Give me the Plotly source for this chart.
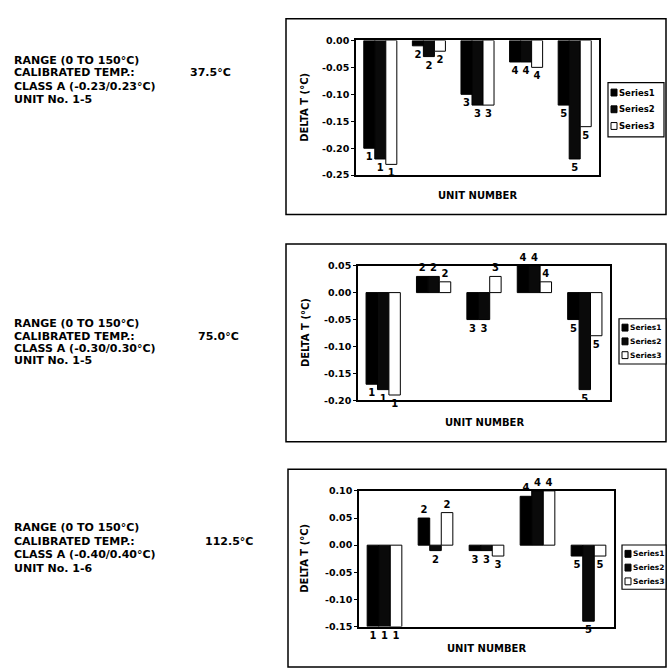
import plotly.graph_objects as go

W, H = 667, 668

units = [1, 2, 3, 4, 5]
unit_labels = ["1", "2", "3", "4", "5"]
series_names = ["Series1", "Series2", "Series3"]

# Chart 1: calibrated temp 37.5 °C
c1_s1 = [-0.20, -0.01, -0.10, -0.04, -0.12]
c1_s2 = [-0.22, -0.03, -0.12, -0.04, -0.22]
c1_s3 = [-0.23, -0.02, -0.12, -0.05, -0.16]
# Chart 2: calibrated temp 75.0 °C
c2_s1 = [-0.17, 0.03, -0.05, 0.05, -0.05]
c2_s2 = [-0.18, 0.03, -0.05, 0.05, -0.18]
c2_s3 = [-0.19, 0.02, 0.03, 0.02, -0.08]
# Chart 3: calibrated temp 112.5 °C
c3_s1 = [-0.15, 0.05, -0.01, 0.09, -0.02]
c3_s2 = [-0.15, -0.01, -0.01, 0.10, -0.14]
c3_s3 = [-0.15, 0.06, -0.02, 0.10, -0.02]

c1_ticks = [0.00, -0.05, -0.10, -0.15, -0.20, -0.25]
c1_ticktext = ["0.00", "-0.05", "-0.10", "-0.15", "-0.20", "-0.25"]
c2_ticks = [0.05, 0.00, -0.05, -0.10, -0.15, -0.20]
c2_ticktext = ["0.05", "0.00", "-0.05", "-0.10", "-0.15", "-0.20"]
c3_ticks = [0.10, 0.05, 0.00, -0.05, -0.10, -0.15]
c3_ticktext = ["0.10", "0.05", "0.00", "-0.05", "-0.10", "-0.15"]

cal_temps = ["37.5°C", "75.0°C", "112.5°C"]
class_texts = ["CLASS A (-0.23/0.23°C)", "CLASS A (-0.30/0.30°C)", "CLASS A (-0.40/0.40°C)"]
unit_texts = ["UNIT No. 1-5", "UNIT No. 1-5", "UNIT No. 1-6"]

FONT = "DejaVu Sans"


def fx(x):
    return x / W


def fy(y):
    return 1 - y / H


charts = [
    dict(vals=[c1_s1, c1_s2, c1_s3], ticks=c1_ticks, ticktext=c1_ticktext,
         plot=(356, 599, 35, 172), box=(286, 666, 13, 212),
         leg=(608, 664, 78, 133), leg_items=[88, 105, 122], leg_font=8.5,
         xtitle_y=193, text_y=[55, 68, 82, 95], val_x=188),
    dict(vals=[c2_s1, c2_s2, c2_s3], ticks=c2_ticks, ticktext=c2_ticktext,
         plot=(358, 610, 264, 401), box=(286, 666, 242, 443),
         leg=(619, 666, 318, 364), leg_items=[327, 341, 355], leg_font=7.5,
         xtitle_y=423, text_y=[323, 336, 348, 360], val_x=196),
    dict(vals=[c3_s1, c3_s2, c3_s3], ticks=c3_ticks, ticktext=c3_ticktext,
         plot=(359, 614, 493, 631), box=(288, 666, 471, 672),
         leg=(622, 666, 548, 593), leg_items=[557, 571, 585], leg_font=7.5,
         xtitle_y=653, text_y=[530, 544, 558, 572], val_x=203),
]

fills = ["#000000", "#0a0a0a", "#ffffff"]

fig = go.Figure()
layout = dict(
    width=W, height=H, margin=dict(l=0, r=0, t=0, b=0),
    paper_bgcolor="white", plot_bgcolor="white",
    barmode="group", bargap=0.32, bargroupgap=0.0,
    showlegend=False, font=dict(family=FONT, color="black"),
)
shapes = []
annotations = []

for i, ch in enumerate(charts):
    n = "" if i == 0 else str(i + 1)
    xa, ya = "x" + n, "y" + n
    x0, x1, y0, y1 = ch["plot"]
    for s in range(3):
        fig.add_trace(go.Bar(
            x=units, y=ch["vals"][s], name=series_names[s],
            xaxis=xa, yaxis=ya,
            marker=dict(color=fills[s], line=dict(color="black", width=1)),
            text=unit_labels, textposition="outside", cliponaxis=False,
            constraintext="none",
            textfont=dict(family=FONT, size=10, color="black", weight="bold"),
            hoverinfo="skip",
        ))
    layout["xaxis" + n] = dict(
        domain=[fx(x0), fx(x1)], anchor=ya, range=[0.5, 5.5],
        showticklabels=False, ticks="", showgrid=False, zeroline=False,
        showline=True, linecolor="black", linewidth=1.5, mirror=True,
    )
    layout["yaxis" + n] = dict(
        domain=[fy(y1), fy(y0)], anchor=xa,
        range=[min(ch["ticks"]), max(ch["ticks"])],
        tickvals=ch["ticks"], ticktext=ch["ticktext"],
        ticks="outside", ticklen=3, tickcolor="black", tickwidth=1,
        tickfont=dict(family=FONT, size=9.5, color="black", weight="bold"),
        showgrid=False, zeroline=False,
        showline=True, linecolor="black", linewidth=1.5, mirror=True,
    )
    bx0, bx1, by0, by1 = ch["box"]
    shapes.append(dict(type="rect", xref="paper", yref="paper",
                       x0=fx(bx0), x1=fx(bx1), y0=fy(by1), y1=fy(by0),
                       line=dict(color="black", width=1.5)))
    annotations.append(dict(xref="paper", yref="paper", x=fx((x0 + x1) / 2), y=fy(ch["xtitle_y"]),
                            text="<b>UNIT NUMBER</b>", showarrow=False,
                            font=dict(family=FONT, size=10, color="black"),
                            xanchor="center", yanchor="middle"))
    annotations.append(dict(xref="paper", yref="paper", x=fx(305), y=fy((y0 + y1) / 2),
                            text="<b>DELTA T (°C)</b>", showarrow=False, textangle=-90,
                            font=dict(family=FONT, size=10, color="black"),
                            xanchor="center", yanchor="middle"))
    lx0, lx1, ly0, ly1 = ch["leg"]
    shapes.append(dict(type="rect", xref="paper", yref="paper",
                       x0=fx(lx0), x1=fx(lx1), y0=fy(ly1), y1=fy(ly0),
                       line=dict(color="black", width=1.2), fillcolor="white"))
    for s in range(3):
        cy = ch["leg_items"][s]
        shapes.append(dict(type="rect", xref="paper", yref="paper",
                           x0=fx(lx0 + 3), x1=fx(lx0 + 9), y0=fy(cy + 3.5), y1=fy(cy - 3.5),
                           line=dict(color="black", width=1), fillcolor=fills[s]))
        annotations.append(dict(xref="paper", yref="paper", x=fx(lx0 + 9), y=fy(cy),
                                text="<b>" + series_names[s] + "</b>", showarrow=False,
                                font=dict(family=FONT, size=ch["leg_font"], color="black"),
                                xanchor="left", yanchor="middle"))
    lines = ["RANGE (0 TO 150°C)", "CALIBRATED TEMP.:", class_texts[i], unit_texts[i]]
    for k, t in enumerate(lines):
        annotations.append(dict(xref="paper", yref="paper", x=fx(12), y=fy(ch["text_y"][k]),
                                text="<b>" + t + "</b>", showarrow=False,
                                font=dict(family=FONT, size=11, color="black"),
                                xanchor="left", yanchor="middle"))
    annotations.append(dict(xref="paper", yref="paper", x=fx(ch["val_x"]), y=fy(ch["text_y"][1]),
                            text="<b>" + cal_temps[i] + "</b>", showarrow=False,
                            font=dict(family=FONT, size=11, color="black"),
                            xanchor="left", yanchor="middle"))

layout["shapes"] = shapes
layout["annotations"] = annotations
fig.update_layout(**layout)
fig.write_html("out.html", config={"displayModeBar": False},
               post_script="document.body.style.margin='0';")
